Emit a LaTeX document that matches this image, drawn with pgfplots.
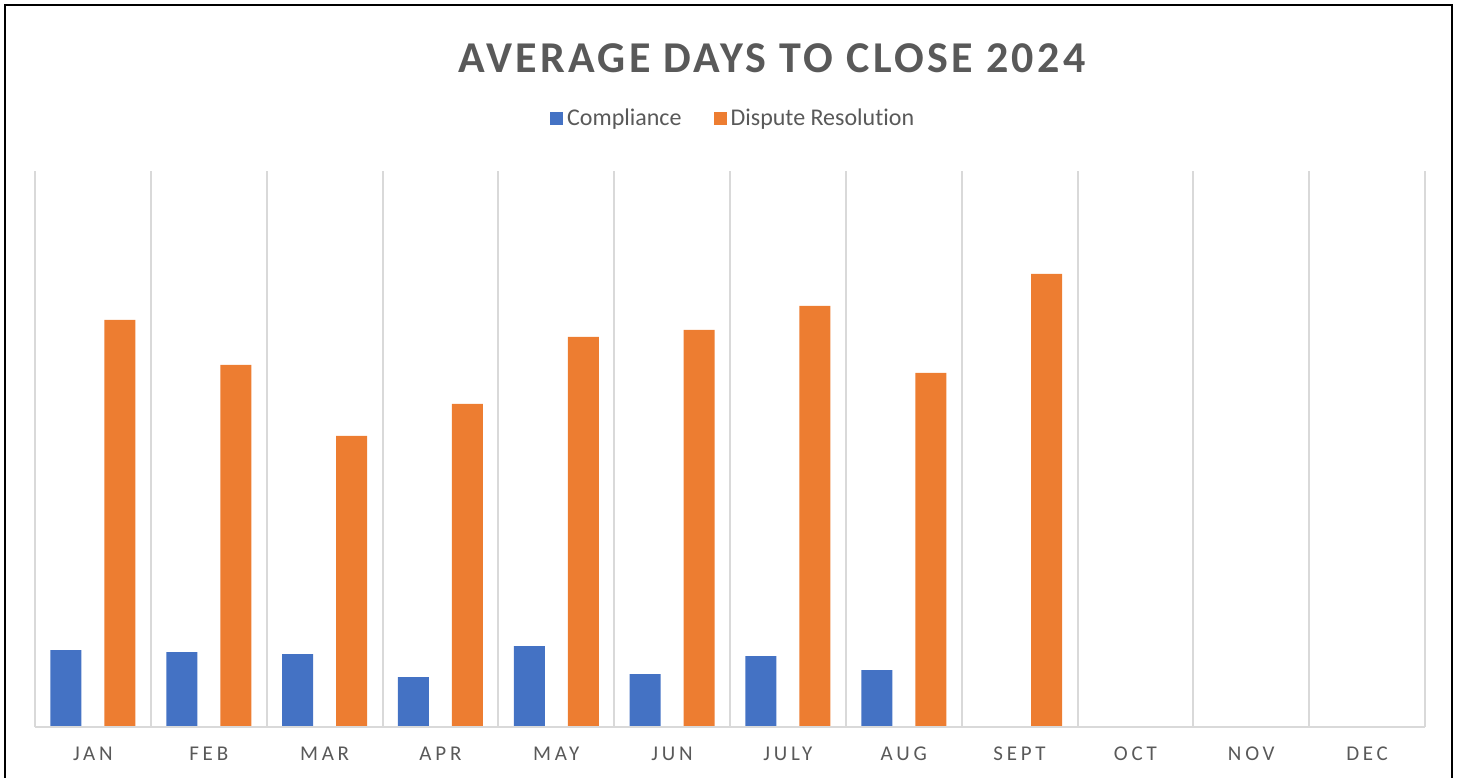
\documentclass[border=0pt]{standalone}
\usepackage{pgfplots}
\pgfplotsset{compat=1.18}
\usepackage{fontspec}
\setmainfont{Carlito}[Ligatures=NoCommon]
\newfontfamily\spaced[LetterSpace=18]{Carlito}
\newfontfamily\titlefont[LetterSpace=7.5]{Carlito}
\definecolor{cblue}{RGB}{68,114,196}
\definecolor{corange}{RGB}{237,125,49}
\definecolor{txtgray}{RGB}{89,89,89}
\definecolor{gridgray}{RGB}{217,217,217}

\begin{document}
\begin{tikzpicture}
% page: 1460x777 px at 0.5pt per px
\useasboundingbox (0,0) rectangle (730pt,388.5pt);
\draw[black, line width=1.1pt] (2.5pt,-10pt) -- (2.5pt,386pt) -- (726pt,386pt) -- (726pt,-10pt);

\node[font=\titlefont\bfseries\fontsize{22}{26}\selectfont, text=txtgray]
  at (386pt,359.3pt) {AVERAGE DAYS TO CLOSE 2024};

\begin{axis}[
    at={(17.5pt,25pt)}, anchor=south west,
    width=695pt, height=278pt, scale only axis,
    xmin=-0.5, xmax=11.5,
    ymin=0, ymax=556,
    ybar=11.5pt, bar width=15.5pt,
    axis line style={draw=none},
    ytick=\empty,
    xtick={0,...,11},
    xticklabels={JAN,FEB,MAR,APR,MAY,JUN,JULY,AUG,SEPT,OCT,NOV,DEC},
    xticklabel style={font=\spaced\fontsize{10.5}{12}\selectfont, text=txtgray, yshift=-6.5pt},
    major tick length=0pt, minor tick length=0pt,
    minor xtick={-0.5,0.5,...,11.5},
    xminorgrids,
    minor grid style={gridgray, line width=1pt},
    legend style={at={(0.503,1.094)}, anchor=center, draw=none,
        legend columns=2, font=\fontsize{12}{14}\selectfont, text=txtgray,
        /tikz/every even column/.append style={column sep=14pt}},
    legend image code/.code={\fill[#1] (0pt,-3.25pt) rectangle (6.5pt,3.25pt);},
]
% Compliance
\addplot[fill=cblue, draw=none] coordinates {
    (0,77) (1,75) (2,73) (3,50) (4,81) (5,53) (6,71) (7,57)
};
\addlegendentry{Compliance}
% Dispute Resolution
\addplot[fill=corange, draw=none] coordinates {
    (0,407) (1,362) (2,291) (3,323) (4,390) (5,397) (6,421) (7,354) (8,453)
};
\addlegendentry{Dispute Resolution}

\draw[gridgray, line width=1pt] (rel axis cs:0,0) -- (rel axis cs:1,0);
\end{axis}
\end{tikzpicture}
\end{document}
